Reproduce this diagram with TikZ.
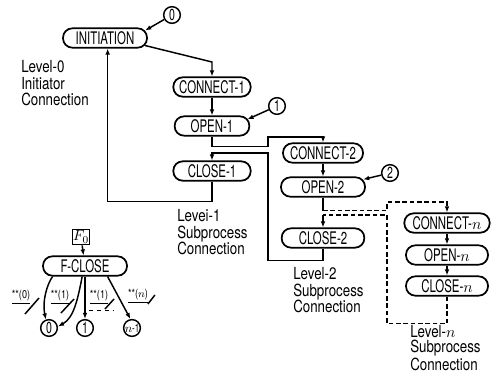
\documentclass[tikz,border=0pt]{standalone}
\usepackage{amsmath}
\usepackage{amssymb}
\usepackage{fontspec}
\setmainfont{TeX Gyre Heros}[FakeStretch=0.8]
\newfontfamily\pillfont{TeX Gyre Heros}[FakeStretch=0.66]
\usepackage{tikz}
\usetikzlibrary{arrows.meta}

\tikzset{
  pill/.style={draw, line width=1.3pt, rectangle, rounded corners=7pt, minimum height=14.5pt, inner xsep=2pt, inner ysep=0pt, font=\pillfont\fontsize{13}{13}\selectfont},
  num/.style={draw, line width=1.1pt, circle, minimum size=12.5pt, inner sep=0pt, font=\pillfont\fontsize{12}{12}\selectfont},
  lbl/.style={anchor=north west, inner sep=0pt, align=left, font=\fontsize{12.5}{12.5}\selectfont},
  tag/.style={inner sep=0.5pt, font=\fontsize{8.5}{9}\selectfont},
  wire/.style={line width=1.1pt},
  dashwire/.style={line width=1.1pt, dash pattern=on 3.5pt off 2pt},
  arr/.style={line width=1.1pt, -{Latex[length=4.5pt,width=3.5pt]}},
}

\begin{document}
\begin{tikzpicture}[x=0.75pt,y=0.75pt,yscale=-1,xscale=1]
\useasboundingbox (0,0) rectangle (492,374);

%Level 0
\node [pill, minimum width=63pt] (init) at (105,38) {INITIATION};
\node [num] (n0) at (172,15) {0};
% Text Node
\node [lbl] (lbl0) at (21,60) {Level-0\\Initiator\\Connection};

%Level 1
\node [pill, minimum width=58pt] (con1) at (212,87) {CONNECT-1};
\node [pill, minimum width=56pt] (open1) at (212,126) {OPEN-1};
\node [pill, minimum width=58pt] (close1) at (212,171) {CLOSE-1};
\node [num] (n1) at (277,106) {1};
% Text Node
\node [lbl] (lbl1) at (177,209) {Levei-1\\Subprocess\\Connection};

%Level 2
\node [pill, minimum width=60pt] (con2) at (323,153) {CONNECT-2};
\node [pill, minimum width=63pt] (open2) at (323,187) {OPEN-2};
\node [pill, minimum width=62pt] (close2) at (323,238) {CLOSE-2};
\node [num] (n2) at (390,173) {2};
% Text Node
\node [lbl] (lbl2) at (293,267) {Level-2\\Subprocess\\Connection};

%Level n
\node [pill, minimum width=64pt] (conn) at (447,223) {CONNECT-$n$};
\node [pill, minimum width=61.5pt] (openn) at (447,255) {OPEN-$n$};
\node [pill, minimum width=61.5pt] (closen) at (447,286) {CLOSE-$n$};
% Text Node
\node [lbl, font=\fontsize{12.5}{11.6}\selectfont] (lbln) at (410,325) {Level-$n$\\Subprocess\\Connection};

%Straight Lines: level 0 and 1
\draw [arr] (n0) -- ([xshift=-2pt]init.10);
\draw [arr] ([xshift=-2pt]init.-10) -- (con1.north |- 0,62) -- (con1.north);
\draw [arr] (con1) -- (open1);
\draw [arr] (n1) -- ([xshift=-2pt]open1.10);
\draw [arr] (close1.south) -- ++(0,20) -| ([xshift=2pt]init.south);

%Straight Lines: level 2
\draw [arr] (open1.south) -- ++(0,10) -| (268,137) -| (con2.north);
\draw [arr] (con2) -- (open2);
\draw [arr] (n2) -- ([xshift=-2pt]open2.10);
\draw [arr] (close2.south) -- ++(0,12) -| (268,153) -| (close1.north);

%Dashed Lines: level n
\draw [wire] (open2.south) -- ++(0,13) coordinate (d1);
\draw [arr, dashwire] (d1) -| (387,202) -| (conn.north);
\draw [arr] (conn) -- (openn);
\draw [arr] (openn) -- (closen);
\coordinate (d2) at (close2.north |- 0,215);
\draw [dashwire] (closen.south) -- ++(0,27) -| (387,215) -- (d2);
\draw [arr] (d2) -- (close2.north);

%F-CLOSE
\node [draw, line width=1.1pt, rectangle, minimum size=11.5pt, inner sep=0.5pt, font=\fontsize{11}{12}\selectfont] (f0) at (81,237) {$F_0$};
\node [pill, minimum width=63pt] (fclose) at (85,266) {F-CLOSE};
\node [num] (b0) at (49,328) {0};
\node [num] (b1) at (85,328) {1};
\node [num, font=\pillfont\fontsize{9}{10}\selectfont] (bn) at (132,328) {$n$-1};
\draw [arr] (f0) -- (fclose);
\draw [arr] (fclose.198) .. controls (47,284) and (42,302) .. (b0.110);
\draw [arr] (fclose.255) .. controls (78,298) and (74,318) .. (b0.10);
\draw [arr] (fclose.south) -- (b1.north);
\draw [arr] (fclose.-25) -- (bn.100);

% Text Node
\node [tag] (t0) at (21,297) {\underline{**(0)}};
\node [tag] (t1) at (60,297) {\underline{**(1)}};
\node [tag] (t2) at (99,297) {\underline{**(1)}};
\node [tag] (t3) at (138,296) {\underline{**($n$)}};
\draw [wire] (t0.east) ++(-6,17) -- ++(14,-16);
\draw [wire] (t1.east) ++(-9,16) -- ++(13,-14);
\draw [wire] (t2.east) ++(-4,12) -- ++(9,-10);
\draw [wire, dashed] (t2.south west) ++(0,6) -- ++(25,0);
\draw [wire] (t3.east) ++(-1,8) -- ++(7,-9);

\end{tikzpicture}
\end{document}
